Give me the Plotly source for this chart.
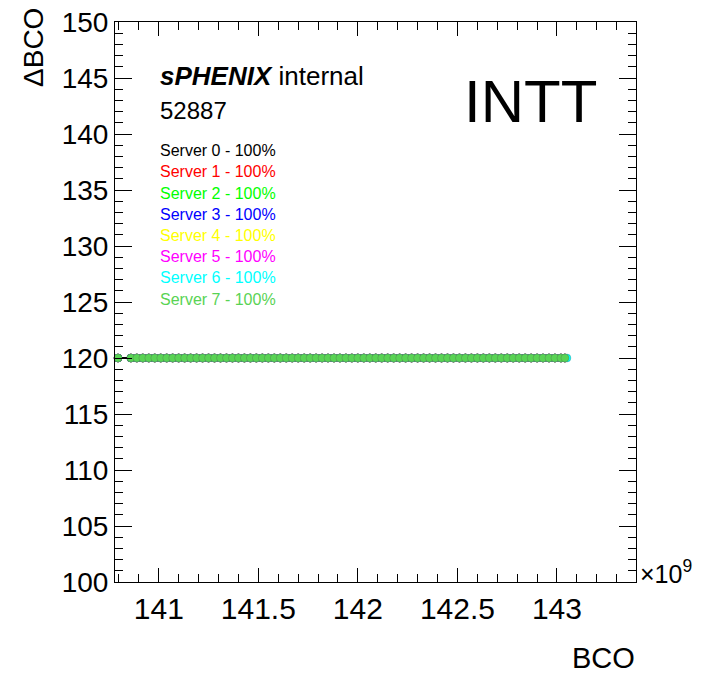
import plotly.graph_objects as go

# BCO values in units of 1e9 (axis shows x10^9)
bco_first = [140.795]
bco_main = [140.86, 140.89, 140.92, 140.95, 140.98, 141.01, 141.04, 141.07, 141.10, 141.13,
            141.16, 141.19, 141.22, 141.25, 141.28, 141.31, 141.34, 141.37, 141.40, 141.43,
            141.46, 141.49, 141.52, 141.55, 141.58, 141.61, 141.64, 141.67, 141.70, 141.73,
            141.76, 141.79, 141.82, 141.85, 141.88, 141.91, 141.94, 141.97, 142.00, 142.03,
            142.06, 142.09, 142.12, 142.15, 142.18, 142.21, 142.24, 142.27, 142.30, 142.33,
            142.36, 142.39, 142.42, 142.45, 142.48, 142.51, 142.54, 142.57, 142.60, 142.63,
            142.66, 142.69, 142.72, 142.75, 142.78, 142.81, 142.84, 142.87, 142.90, 142.93,
            142.96, 142.99, 143.02, 143.04]
bco_last_server6 = [143.05]
dbco_value = 120

servers = ["Server 0", "Server 1", "Server 2", "Server 3", "Server 4", "Server 5", "Server 6", "Server 7"]
efficiency = [100, 100, 100, 100, 100, 100, 100, 100]
server_colors = ["#000000", "#ff0000", "#00ff00", "#0000ff", "#ffff00", "#ff00ff", "#00ffff", "#59d354"]

run_number = "52887"

FONT = "Liberation Sans, Arial, Helvetica, sans-serif"

fig = go.Figure()

for i, name in enumerate(servers):
    xs = bco_first + bco_main
    if i == 6:
        xs = xs + bco_last_server6
    fig.add_trace(go.Scatter(
        x=xs, y=[dbco_value] * len(xs),
        mode="lines+markers",
        line=dict(color="black", width=1),
        marker=dict(color=server_colors[i], size=8,
                    line=dict(color="rgba(70,70,70,0.5)", width=0.5)),
        name=name, showlegend=False, cliponaxis=False,
    ))

# page has an 8px body margin, so the figure is 8px smaller and everything is
# placed in page pixels: plot area x 115..636, y 22..582
def px_x(p):
    return (p - 115) / 521.0

def px_y(p):
    return (582 - p) / 560.0

ann = []
ann.append(dict(text="<b><i>sPHENIX</i></b> internal", x=px_x(158), y=px_y(76),
                xanchor="left", yanchor="middle", font=dict(size=26, color="black", family=FONT)))
ann.append(dict(text=run_number, x=px_x(158), y=px_y(110),
                xanchor="left", yanchor="middle", font=dict(size=24, color="black", family=FONT)))
for i, name in enumerate(servers):
    ann.append(dict(text=f"{name} - {efficiency[i]}%", x=px_x(158), y=px_y(150.7 + 21.2 * i),
                    xanchor="left", yanchor="middle",
                    font=dict(size=16, color=server_colors[i], family=FONT)))
ann.append(dict(text="INTT", x=px_x(530), y=px_y(101), xanchor="center", yanchor="middle",
                font=dict(size=60, color="black", family=FONT)))
ann.append(dict(text="ΔBCO", x=px_x(34), y=px_y(48), xanchor="center", yanchor="middle",
                textangle=-90, font=dict(size=28, color="black", family=FONT)))
ann.append(dict(text="BCO", x=px_x(637), y=px_y(658), xanchor="right", yanchor="middle",
                font=dict(size=29, color="black", family=FONT)))
ann.append(dict(text="×10<sup>9</sup>", x=px_x(638), y=px_y(572), xanchor="left", yanchor="middle",
                font=dict(size=25, color="black", family=FONT)))
for a in ann:
    a.update(xref="paper", yref="paper", showarrow=False)

fig.update_layout(
    width=697, height=667,
    margin=dict(l=107, r=69, t=14, b=93),
    paper_bgcolor="white", plot_bgcolor="white",
    annotations=ann,
    showlegend=False,
    xaxis=dict(range=[140.78, 143.397], tick0=141, dtick=0.5, ticks="inside", ticklen=14,
               tickcolor="black", tickwidth=1, showline=True, linecolor="black", linewidth=1,
               mirror="allticks", showgrid=False, zeroline=False, automargin=False,
               ticklabeloverflow="allow",
               tickfont=dict(size=30, color="black", family=FONT),
               minor=dict(dtick=0.1, ticks="inside", ticklen=8, tickcolor="black", showgrid=False)),
    yaxis=dict(range=[100, 150], dtick=5, ticks="inside", ticklen=17,
               tickcolor="black", tickwidth=1, showline=True, linecolor="black", linewidth=1,
               mirror="allticks", showgrid=False, zeroline=False, automargin=False,
               ticklabeloverflow="allow",
               tickfont=dict(size=28, color="black", family=FONT),
               minor=dict(dtick=1, ticks="inside", ticklen=8, tickcolor="black", showgrid=False)),
)

fig.write_html("out.html")
